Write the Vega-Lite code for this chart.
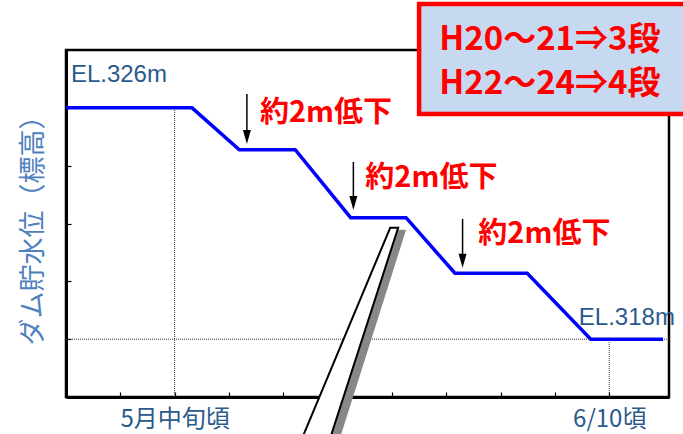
{
  "$schema": "https://vega.github.io/schema/vega-lite/v6.json",
  "autosize": "none",
  "width": 603,
  "height": 347,
  "padding": {"left": 66, "top": 50, "right": 14, "bottom": 37},
  "background": "white",
  "config": {
    "view": {"stroke": "black", "strokeWidth": 2.5},
    "font": "Noto Sans CJK JP"
  },
  "encoding": {
    "x": {"type": "quantitative", "scale": {"domain": [0, 11.1], "nice": false, "zero": false}},
    "y": {"type": "quantitative", "scale": {"domain": [316, 328], "nice": false, "zero": false}}
  },
  "layer": [
    {
      "data": {"values": [{"x": 2, "y": 316, "y2": 326}, {"x": 10, "y": 316, "y2": 318}]},
      "mark": {"type": "rule", "color": "#333333", "strokeWidth": 1, "strokeDash": [1, 1]},
      "encoding": {
        "x": {"field": "x", "type": "quantitative",
          "axis": {"values": [1, 2, 3, 4, 5, 6, 7, 8, 9, 10], "title": null, "grid": false,
            "domainColor": "black", "domainWidth": 3, "tickColor": "black", "tickWidth": 1.2, "tickSize": -5,
            "labelExpr": "datum.value == 2 ? '5月中旬頃' : datum.value == 10 ? '6/10頃' : ''",
            "labelFont": "Noto Sans CJK JP", "labelFontSize": 24, "labelColor": "#2B5A8C",
            "labelPadding": 15, "labelOverlap": false, "labelBound": false, "labelFlush": false, "labelBaseline": "top"}},
        "y": {"field": "y", "type": "quantitative",
          "axis": {"values": [318, 320, 322, 324, 326], "labels": false, "grid": false,
            "title": "ダム貯水位（標高）", "titleFont": "Noto Sans CJK JP", "titleFontSize": 27,
            "titleFontWeight": "normal", "titleColor": "#4F81BD", "titlePadding": 18,
            "domainColor": "black", "domainWidth": 3, "tickColor": "black", "tickWidth": 1.2, "tickSize": -5}},
        "y2": {"field": "y2"}
      }
    },
    {
      "data": {"values": [{"y": 318}]},
      "mark": {"type": "rule", "color": "#333333", "strokeWidth": 1, "strokeDash": [1, 1]},
      "encoding": {"y": {"field": "y", "type": "quantitative"}}
    },
    {
      "data": {"values": [
        {"x": 0, "y": 326}, {"x": 2.32, "y": 326}, {"x": 3.19, "y": 324.55}, {"x": 4.22, "y": 324.55},
        {"x": 5.24, "y": 322.2}, {"x": 6.26, "y": 322.2}, {"x": 7.16, "y": 320.28}, {"x": 8.49, "y": 320.28},
        {"x": 9.66, "y": 318}, {"x": 10.99, "y": 318}
      ]},
      "mark": {"type": "line", "color": "#0000FF", "strokeWidth": 3.5, "strokeJoin": "miter"},
      "encoding": {
        "x": {"field": "x", "type": "quantitative"},
        "y": {"field": "y", "type": "quantitative"}
      }
    },
    {
      "data": {"values": [
        {"x": 3.33, "y": 326.48, "y2": 325.0},
        {"x": 5.29, "y": 324.13, "y2": 322.71},
        {"x": 7.3, "y": 322.16, "y2": 320.71}
      ]},
      "mark": {"type": "rule", "color": "black", "strokeWidth": 1.5},
      "encoding": {
        "x": {"field": "x", "type": "quantitative"},
        "y": {"field": "y", "type": "quantitative"},
        "y2": {"field": "y2"}
      }
    },
    {
      "data": {"values": [
        {"x": 3.33, "y": 324.99},
        {"x": 5.29, "y": 322.71},
        {"x": 7.3, "y": 320.71}
      ]},
      "mark": {"type": "point", "shape": "M-0.57,-1L0.57,-1L0,1Z", "size": 196, "filled": true, "color": "black", "opacity": 1},
      "encoding": {
        "x": {"field": "x", "type": "quantitative"},
        "y": {"field": "y", "type": "quantitative"}
      }
    },
    {
      "data": {"values": [
        {"x": 3.57, "y": 325.83, "label": "約2m低下"},
        {"x": 5.51, "y": 323.58, "label": "約2m低下"},
        {"x": 7.59, "y": 321.64, "label": "約2m低下"}
      ]},
      "mark": {"type": "text", "align": "left", "baseline": "middle", "font": "Noto Sans CJK JP", "fontWeight": "bold", "fontSize": 29, "color": "#FF0000"},
      "encoding": {
        "x": {"field": "x", "type": "quantitative"},
        "y": {"field": "y", "type": "quantitative"},
        "text": {"field": "label"}
      }
    },
    {
      "data": {"values": [
        {"x": 0.09, "y": 327.13, "label": "EL.326m"},
        {"x": 9.44, "y": 318.73, "label": "EL.318m"}
      ]},
      "mark": {"type": "text", "align": "left", "baseline": "middle", "font": "Liberation Sans", "fontSize": 24, "color": "#2B5A8C"},
      "encoding": {
        "x": {"field": "x", "type": "quantitative"},
        "y": {"field": "y", "type": "quantitative"},
        "text": {"field": "label"}
      }
    },
    {
      "data": {"values": [
        {"y": 321.78, "x": 6.114, "x2": 6.26},
        {"y": 314.5, "x": 4.51, "x2": 5.03}
      ]},
      "mark": {"type": "area", "orient": "horizontal", "color": "#888888", "opacity": 1},
      "encoding": {
        "y": {"field": "y", "type": "quantitative"},
        "x": {"field": "x", "type": "quantitative"},
        "x2": {"field": "x2"}
      }
    },
    {
      "data": {"values": [
        {"y": 321.85, "x": 5.967, "x2": 6.114},
        {"y": 314.5, "x": 4.33, "x2": 4.85}
      ]},
      "mark": {"type": "area", "orient": "horizontal", "fill": "white", "stroke": "black", "strokeWidth": 2, "opacity": 1},
      "encoding": {
        "y": {"field": "y", "type": "quantitative"},
        "x": {"field": "x", "type": "quantitative"},
        "x2": {"field": "x2"}
      }
    },
    {
      "data": {"values": [{"x": 6.5, "x2": 12.5, "y": 329.59, "y2": 325.79}]},
      "mark": {"type": "rect", "fill": "#C6D9F0", "stroke": "#FF0000", "strokeWidth": 4.5},
      "encoding": {
        "x": {"field": "x", "type": "quantitative"},
        "x2": {"field": "x2"},
        "y": {"field": "y", "type": "quantitative"},
        "y2": {"field": "y2"}
      }
    },
    {
      "data": {"values": [
        {"x": 6.87, "y": 328.34, "label": "H20～21⇒3段"},
        {"x": 6.87, "y": 326.82, "label": "H22～24⇒4段"}
      ]},
      "mark": {"type": "text", "align": "left", "baseline": "middle", "font": "Noto Sans CJK JP", "fontWeight": "bold", "fontSize": 33, "color": "#FF0000"},
      "encoding": {
        "x": {"field": "x", "type": "quantitative"},
        "y": {"field": "y", "type": "quantitative"},
        "text": {"field": "label"}
      }
    }
  ]
}
